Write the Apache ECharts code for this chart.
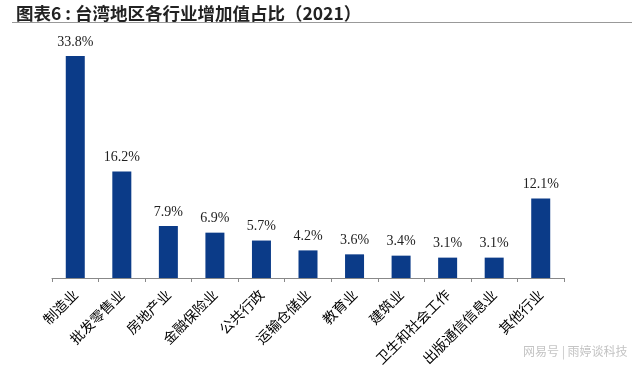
<!DOCTYPE html>
<html>
<head>
<meta charset="utf-8">
<script src="https://cdn.jsdelivr.net/npm/echarts@6/dist/echarts.min.js"></script>
<style>html,body{margin:0;padding:0;background:#fff;}#c{width:640px;height:370px;}</style>
</head>
<body>
<div id="c"></div>
<script>
const categories = ['制造业','批发零售业','房地产业','金融保险业','公共行政','运输仓储业','教育业','建筑业','卫生和社会工作','出版通信信息业','其他行业'];
const shares = [33.8, 16.2, 7.9, 6.9, 5.7, 4.2, 3.6, 3.4, 3.1, 3.1, 12.1];
const titleText = '图表6 : 台湾地区各行业增加值占比（2021）';
const watermark = '网易号 | 雨婷谈科技';

const chart = echarts.init(document.getElementById('c'));
chart.setOption({
  animation: false,
  backgroundColor: '#ffffff',
  title: {
    text: titleText,
    left: 11, top: 0,
    textStyle: { fontSize: 17.5, fontWeight: 'bold', color: '#222', fontFamily: 'Noto Sans CJK SC' }
  },
  graphic: [
    { type: 'line', shape: { x1: 12, y1: 22.5, x2: 632, y2: 22.5 }, style: { stroke: '#999', lineWidth: 1 } },
    { type: 'text', left: 523, top: 345, style: { text: watermark, fill: '#c4c4c4', font: '12px "Noto Sans CJK SC"' } }
  ],
  grid: { left: 52, right: 76, top: 48, bottom: 92 },
  xAxis: {
    type: 'category',
    data: categories,
    axisLine: { lineStyle: { color: '#888', width: 1 } },
    axisTick: { show: true, length: 4, alignWithLabel: false, lineStyle: { color: '#888' } },
    axisLabel: { rotate: 45, interval: 0, margin: 14, fontSize: 14, color: '#000', fontFamily: 'Noto Sans CJK SC' }
  },
  yAxis: { type: 'value', min: 0, max: 35, show: false, splitLine: { show: false } },
  series: [{
    type: 'bar',
    data: shares,
    barWidth: 19,
    itemStyle: { color: '#0b3b88' },
    label: {
      show: true, position: 'top', distance: 7,
      formatter: p => p.value.toFixed(1) + '%',
      fontSize: 14, color: '#222', fontFamily: 'Liberation Serif'
    }
  }]
});
</script>
</body>
</html>
